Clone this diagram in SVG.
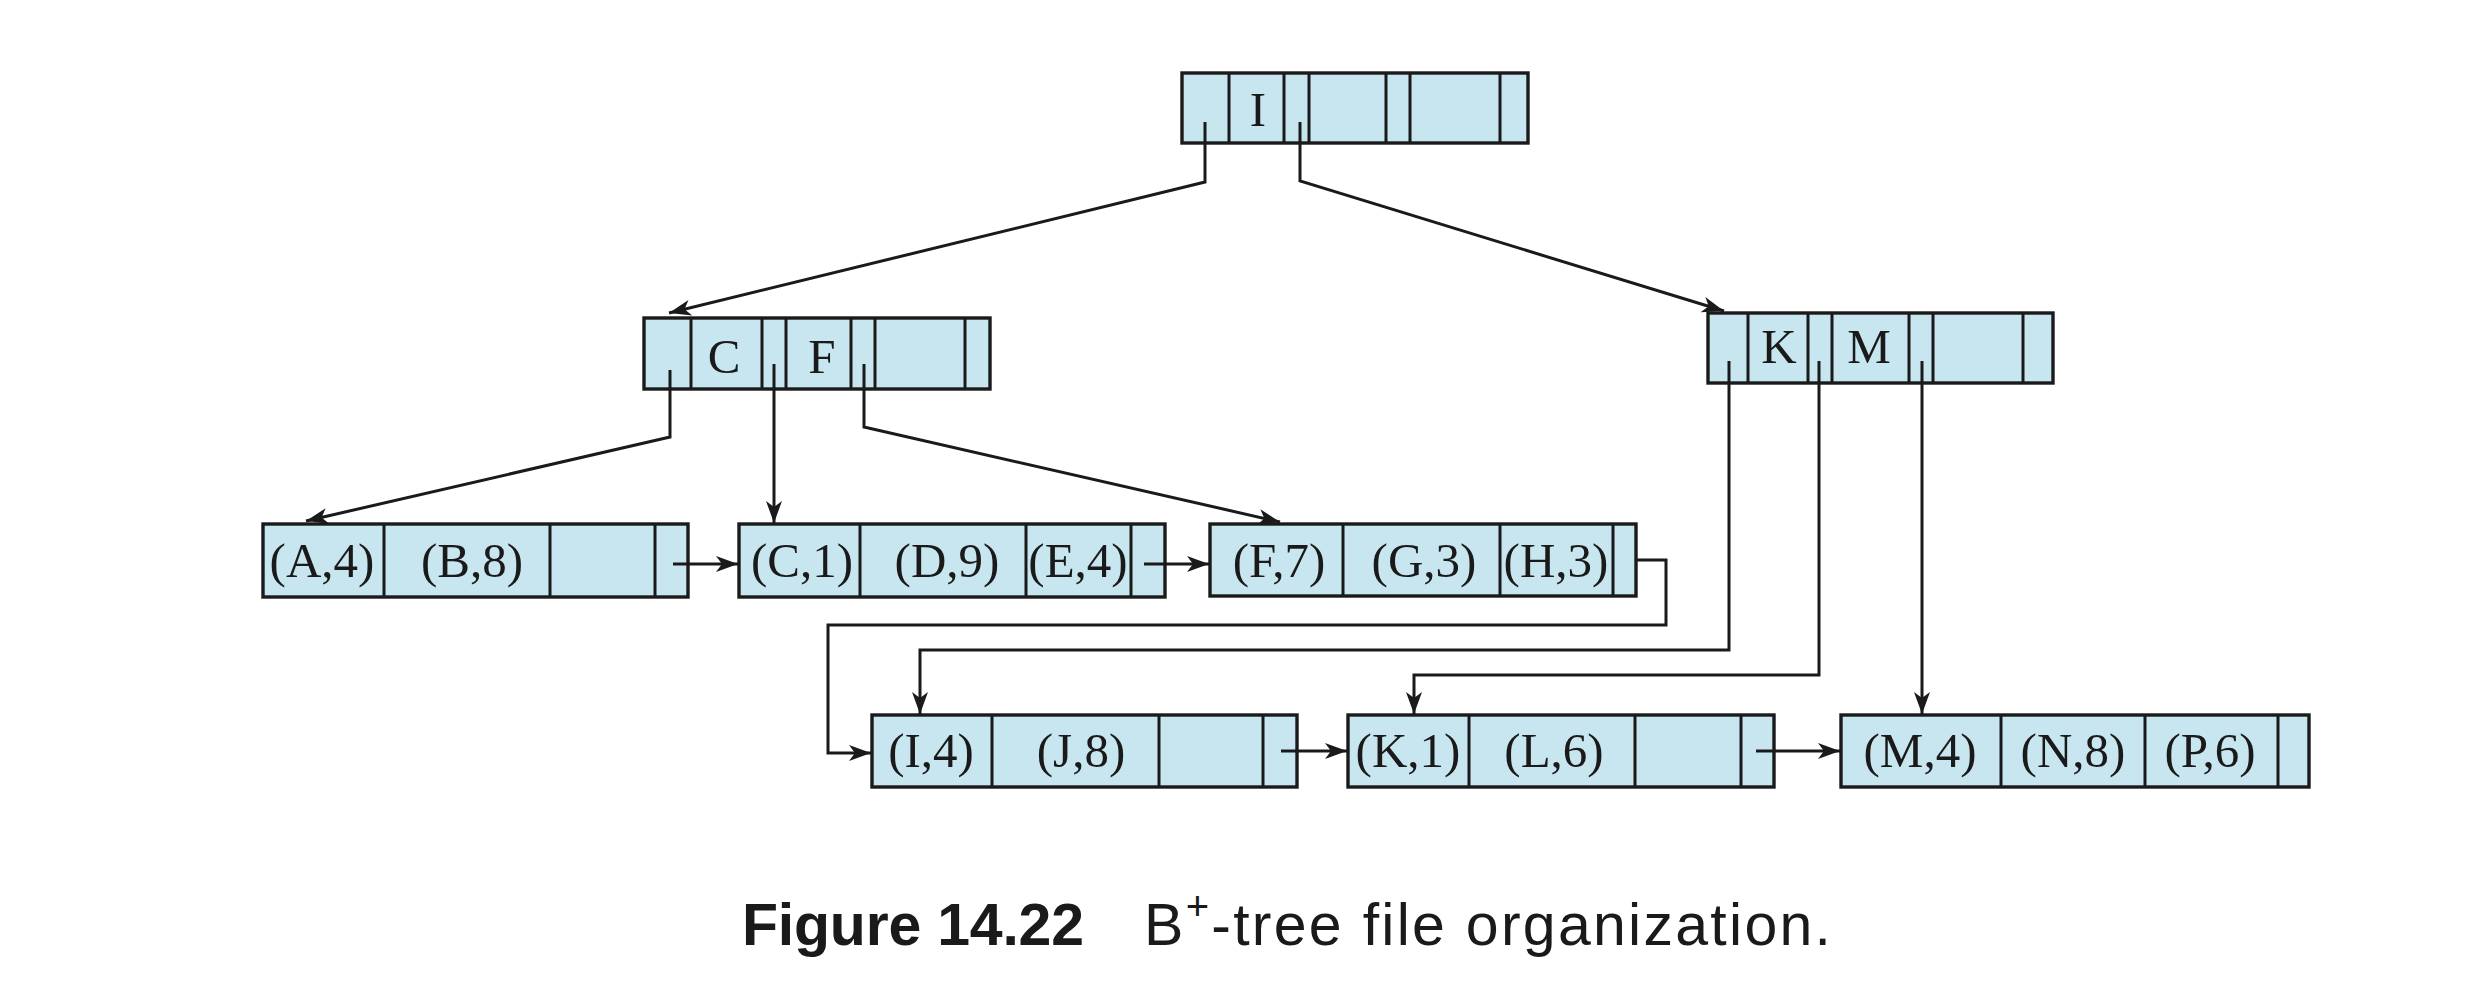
<svg xmlns="http://www.w3.org/2000/svg" width="2476" height="1000" viewBox="0 0 2476 1000">
<style>
.box{fill:#c8e6f0;stroke:#1a1a1a;stroke-width:3.4}
.div{fill:none;stroke:#1a1a1a;stroke-width:3}
.lbl{font-family:"Liberation Serif","Times New Roman",serif;font-size:49px;fill:#1a1a1a;text-anchor:middle}
.con{fill:none;stroke:#1a1a1a;stroke-width:3;stroke-linejoin:miter}
.cap{font-family:"Liberation Sans",Arial,sans-serif;font-size:59px;fill:#1a1a1a}
</style>
<defs>
<marker id="ah" viewBox="-23 -9 25 18" refX="0" refY="0" markerWidth="25" markerHeight="18" markerUnits="userSpaceOnUse" orient="auto">
<path d="M0,0 L-22,-8 L-16,0 L-22,8 Z" fill="#1a1a1a"/>
</marker>
</defs>
<rect width="2476" height="1000" fill="#ffffff"/>

<g id="root">
<rect class="box" x="1182" y="73" width="346" height="70"/>
<path class="div" d="M1229,73V143M1284,73V143M1309,73V143M1386,73V143M1410,73V143M1500,73V143"/>
<text class="lbl" x="1258" y="126">I</text>
</g>

<g id="nodeCF">
<rect class="box" x="644" y="318" width="346" height="71"/>
<path class="div" d="M691,318V389M762,318V389M786,318V389M851,318V389M875,318V389M965,318V389"/>
<text class="lbl" x="724" y="373">C</text>
<text class="lbl" x="822" y="373">F</text>
</g>

<g id="nodeKM">
<rect class="box" x="1708" y="313" width="345" height="70"/>
<path class="div" d="M1748,313V383M1808,313V383M1832,313V383M1909,313V383M1933,313V383M2023,313V383"/>
<text class="lbl" x="1779" y="363">K</text>
<text class="lbl" x="1869" y="363">M</text>
</g>

<g id="leaf1">
<rect class="box" x="263" y="524" width="425" height="73"/>
<path class="div" d="M384,524V597M550,524V597M655,524V597"/>
<text class="lbl" x="322" y="577">(A,4)</text>
<text class="lbl" x="472" y="577">(B,8)</text>
</g>

<g id="leaf2">
<rect class="box" x="739" y="524" width="426" height="73"/>
<path class="div" d="M860,524V597M1026,524V597M1131,524V597"/>
<text class="lbl" x="802" y="577">(C,1)</text>
<text class="lbl" x="947" y="577">(D,9)</text>
<text class="lbl" x="1078" y="577">(E,4)</text>
</g>

<g id="leaf3">
<rect class="box" x="1210" y="524" width="426" height="72"/>
<path class="div" d="M1343,524V596M1500,524V596M1613,524V596"/>
<text class="lbl" x="1279" y="577">(F,7)</text>
<text class="lbl" x="1424" y="577">(G,3)</text>
<text class="lbl" x="1556" y="577">(H,3)</text>
</g>

<g id="leaf4">
<rect class="box" x="872" y="715" width="425" height="72"/>
<path class="div" d="M992,715V787M1159,715V787M1263,715V787"/>
<text class="lbl" x="931" y="767">(I,4)</text>
<text class="lbl" x="1081" y="767">(J,8)</text>
</g>

<g id="leaf5">
<rect class="box" x="1348" y="715" width="426" height="72"/>
<path class="div" d="M1469,715V787M1635,715V787M1741,715V787"/>
<text class="lbl" x="1408" y="767">(K,1)</text>
<text class="lbl" x="1554" y="767">(L,6)</text>
</g>

<g id="leaf6">
<rect class="box" x="1841" y="715" width="468" height="72"/>
<path class="div" d="M2001,715V787M2145,715V787M2278,715V787"/>
<text class="lbl" x="1920" y="767">(M,4)</text>
<text class="lbl" x="2073" y="767">(N,8)</text>
<text class="lbl" x="2210" y="767">(P,6)</text>
</g>

<g id="connectors">
<path class="con" marker-end="url(#ah)" d="M1205,122V182L669,313"/>
<path class="con" marker-end="url(#ah)" d="M1300,122V181L1724,311"/>
<path class="con" marker-end="url(#ah)" d="M670,370V437L306,521"/>
<path class="con" marker-end="url(#ah)" d="M774,364V523"/>
<path class="con" marker-end="url(#ah)" d="M864,364V427L1280,522"/>
<path class="con" marker-end="url(#ah)" d="M1729,361V650H920V714"/>
<path class="con" marker-end="url(#ah)" d="M1819,361V675H1414V714"/>
<path class="con" marker-end="url(#ah)" d="M1922,361V714"/>
<path class="con" marker-end="url(#ah)" d="M673,564H738"/>
<path class="con" marker-end="url(#ah)" d="M1144,564H1209"/>
<path class="con" marker-end="url(#ah)" d="M1636,560H1666V625H828V753H871"/>
<path class="con" marker-end="url(#ah)" d="M1281,751H1347"/>
<path class="con" marker-end="url(#ah)" d="M1756,751H1840"/>
</g>

<g id="caption">
<text class="cap" x="742" y="945" font-weight="bold" textLength="342">Figure 14.22</text>
<text class="cap" x="1144" y="945" textLength="687">B<tspan font-size="40" dy="-25">+</tspan><tspan dy="25">-tree file organization.</tspan></text>
</g>
</svg>
